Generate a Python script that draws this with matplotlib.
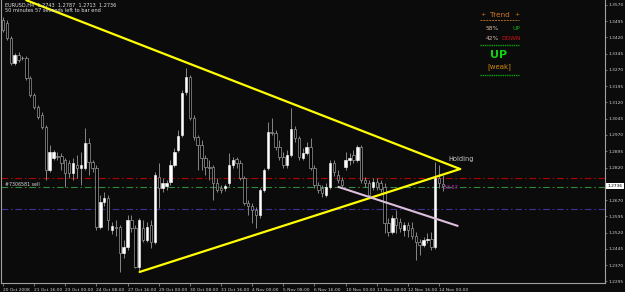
import matplotlib
matplotlib.use("Agg")
import matplotlib.pyplot as plt
import matplotlib.transforms as mtransforms
import numpy as np

# EURUSD H4 candles, 20 Oct - 14 Nov 2008
opens = [1.3501, 1.3487, 1.3418, 1.3302, 1.3339, 1.3325, 1.3325, 1.3233, 1.3155, 1.3099,
         1.3062, 1.3007, 1.2808, 1.2864, 1.2873, 1.2873, 1.2855, 1.2841, 1.2795, 1.2832,
         1.2818, 1.2818, 1.2933, 1.2845, 1.2818, 1.2545, 1.2661, 1.2679, 1.2532, 1.2545,
         1.2545, 1.2425, 1.2453, 1.2578, 1.2541, 1.2361, 1.2541, 1.2485, 1.2555, 1.2476,
         1.2776, 1.2725, 1.2735, 1.2753, 1.2832, 1.2901, 1.2970, 1.3168, 1.3238, 1.3048,
         1.2961, 1.2924, 1.2864, 1.2822, 1.2822, 1.2748, 1.2725, 1.2725, 1.2748, 1.2832,
         1.2859, 1.2841, 1.2772, 1.2656, 1.2642, 1.2624, 1.2601, 1.2716, 1.2818, 1.2984,
         1.2979, 1.2914, 1.2868, 1.2832, 1.2878, 1.2998, 1.2956, 1.2864, 1.2887, 1.2914,
         1.2818, 1.2739, 1.2725, 1.2693, 1.2730, 1.2841, 1.2785, 1.2762, 1.2822, 1.2855,
         1.2878, 1.2855, 1.2914, 1.2762, 1.2748, 1.2730, 1.2753, 1.2748, 1.2730, 1.2564,
         1.2523, 1.2587, 1.2569, 1.2532, 1.2555, 1.2541, 1.2505, 1.2476, 1.2462, 1.2485,
         1.2491, 1.2453, 1.2772, 1.2743]
highs = [1.3515, 1.3501, 1.3427, 1.3348, 1.3353, 1.3335, 1.3335, 1.3242, 1.3164, 1.3108,
         1.3076, 1.3016, 1.2924, 1.2901, 1.2892, 1.2887, 1.2864, 1.2855, 1.2864, 1.2878,
         1.2892, 1.3002, 1.2956, 1.2855, 1.2832, 1.2693, 1.2707, 1.2693, 1.2569, 1.2578,
         1.2555, 1.2485, 1.2601, 1.2601, 1.2555, 1.2587, 1.2578, 1.2569, 1.2578, 1.2799,
         1.2841, 1.2772, 1.2762, 1.2855, 1.2910, 1.2993, 1.3178, 1.3279, 1.3247, 1.3062,
         1.2970, 1.2947, 1.2878, 1.2855, 1.2832, 1.2772, 1.2739, 1.2744, 1.2887, 1.2868,
         1.2868, 1.2855, 1.2781, 1.2670, 1.2656, 1.2638, 1.2725, 1.2818, 1.3030, 1.3048,
         1.2993, 1.2947, 1.2892, 1.2901, 1.3095, 1.3012, 1.2965, 1.2910, 1.2938, 1.2956,
         1.2832, 1.2753, 1.2739, 1.2748, 1.2855, 1.2855, 1.2808, 1.2776, 1.2892, 1.2887,
         1.2901, 1.2924, 1.2924, 1.2776, 1.2762, 1.2772, 1.2772, 1.2762, 1.2748, 1.2587,
         1.2601, 1.2624, 1.2587, 1.2569, 1.2569, 1.2569, 1.2523, 1.2491, 1.2500, 1.2518,
         1.2523, 1.2845, 1.2832, 1.2787]
lows = [1.3445, 1.3408, 1.3293, 1.3293, 1.3307, 1.3316, 1.3224, 1.3145, 1.3090, 1.3044,
        1.2998, 1.2762, 1.2799, 1.2855, 1.2855, 1.2808, 1.2730, 1.2772, 1.2762, 1.2772,
        1.2739, 1.2808, 1.2785, 1.2799, 1.2532, 1.2536, 1.2642, 1.2532, 1.2513, 1.2505,
        1.2338, 1.2402, 1.2439, 1.2523, 1.2356, 1.2338, 1.2476, 1.2476, 1.2448, 1.2467,
        1.2633, 1.2707, 1.2716, 1.2739, 1.2822, 1.2892, 1.2961, 1.3155, 1.3039, 1.2947,
        1.2808, 1.2808, 1.2785, 1.2762, 1.2670, 1.2707, 1.2702, 1.2711, 1.2735, 1.2818,
        1.2818, 1.2762, 1.2647, 1.2601, 1.2564, 1.2541, 1.2587, 1.2707, 1.2808, 1.2970,
        1.2901, 1.2855, 1.2818, 1.2818, 1.2868, 1.2938, 1.2855, 1.2855, 1.2878, 1.2808,
        1.2725, 1.2702, 1.2684, 1.2684, 1.2721, 1.2781, 1.2748, 1.2725, 1.2808, 1.2832,
        1.2841, 1.2845, 1.2748, 1.2730, 1.2684, 1.2716, 1.2716, 1.2707, 1.2518, 1.2505,
        1.2513, 1.2518, 1.2523, 1.2505, 1.2500, 1.2491, 1.2393, 1.2416, 1.2453, 1.2472,
        1.2439, 1.2444, 1.2725, 1.2713]
closes = [1.3455, 1.3418, 1.3302, 1.3339, 1.3316, 1.3324, 1.3233, 1.3155, 1.3099, 1.3053,
          1.3007, 1.2808, 1.2892, 1.2892, 1.2868, 1.2841, 1.2795, 1.2795, 1.2841, 1.2818,
          1.2832, 1.2933, 1.2845, 1.2818, 1.2545, 1.2661, 1.2679, 1.2578, 1.2550, 1.2541,
          1.2425, 1.2453, 1.2578, 1.2541, 1.2361, 1.2578, 1.2485, 1.2545, 1.2476, 1.2785,
          1.2725, 1.2748, 1.2748, 1.2832, 1.2892, 1.2965, 1.3164, 1.3238, 1.3048, 1.2961,
          1.2924, 1.2864, 1.2822, 1.2818, 1.2748, 1.2716, 1.2716, 1.2735, 1.2832, 1.2855,
          1.2841, 1.2772, 1.2656, 1.2642, 1.2624, 1.2601, 1.2716, 1.2808, 1.2984, 1.2979,
          1.2914, 1.2868, 1.2832, 1.2878, 1.2998, 1.2956, 1.2868, 1.2887, 1.2914, 1.2818,
          1.2739, 1.2716, 1.2702, 1.2730, 1.2841, 1.2799, 1.2762, 1.2739, 1.2855, 1.2864,
          1.2855, 1.2914, 1.2762, 1.2748, 1.2693, 1.2753, 1.2730, 1.2721, 1.2564, 1.2523,
          1.2587, 1.2555, 1.2541, 1.2555, 1.2532, 1.2505, 1.2476, 1.2462, 1.2485, 1.2491,
          1.2453, 1.2772, 1.2748, 1.2736]

x_labels = ["20 Oct 2008", "21 Oct 16:00", "23 Oct 00:00", "24 Oct 08:00", "27 Oct 16:00",
            "29 Oct 00:00", "30 Oct 08:00", "31 Oct 16:00", "4 Nov 00:00", "5 Nov 08:00",
            "6 Nov 16:00", "10 Nov 00:00", "11 Nov 08:00", "12 Nov 16:00", "14 Nov 00:00"]
x_label_bars = list(range(0, 113, 8))
price_ticks = [1.2295, 1.2370, 1.2445, 1.2520, 1.2595, 1.2670, 1.2820, 1.2895, 1.2970,
               1.3045, 1.3120, 1.3195, 1.3270, 1.3345, 1.3420, 1.3495, 1.3570]
last_price = 1.2736

# trendlines (bar index, price)
tri_top = ([6.0, 117.4], [1.3592, 1.2813])
tri_bottom = ([35.1, 117.4], [1.2338, 1.2813])
pink_line = ([86.2, 116.7], [1.2730, 1.2551])
level_red = 1.2771
level_order = 1.2730
level_blue = 1.2629

W, H = 625, 292
BG = "#0b0b0b"
fig = plt.figure(figsize=(W / 100, H / 100), dpi=100, facecolor=BG)
ax = fig.add_axes([1 / W, 9 / H, 604 / W, 283 / H], facecolor=BG)

o = np.array(opens); hi = np.array(highs); lo = np.array(lows); c = np.array(closes)
bars = np.arange(len(o))
up = c >= o

ax.vlines(bars, lo, hi, color="#9a9a9a", lw=0.6, zorder=2)
body_lo = np.minimum(o, c)
body_h = np.maximum(np.abs(c - o), 0.00015)
ax.bar(bars[up], body_h[up], bottom=body_lo[up], width=0.62, color="white",
       edgecolor="white", lw=0.4, zorder=3)
ax.bar(bars[~up], body_h[~up], bottom=body_lo[~up], width=0.62, color="black",
       edgecolor="#9a9a9a", lw=0.5, zorder=3)

ax.axhline(level_red, color="#b00000", lw=0.8, ls=(0, (6, 2.5, 1.5, 2.5)), zorder=1)
ax.axhline(level_order, color="#2f8a3a", lw=0.8, ls=(0, (6, 2.5, 1.5, 2.5)), zorder=1)
ax.axhline(level_blue, color="#40309a", lw=0.8, ls=(0, (6, 2.5, 1.5, 2.5)), zorder=1)

ax.plot(*tri_top, color="#ffff00", lw=1.6, zorder=4, solid_capstyle="round")
ax.plot(*tri_bottom, color="#ffff00", lw=1.6, zorder=4, solid_capstyle="round")
ax.plot(*pink_line, color="#dcc0dc", lw=1.5, zorder=4)

ax.text(114.3, 1.2857, "Holding", color="#c8c8c8", fontsize=4.8, va="center", ha="left")
ax.text(113.0, 1.2726, "-33.57", color="#d020d0", fontsize=3.6, va="center", ha="left")
ax.text(0.5, 1.2741, "#7306581 sell", color="#d8d8d8", fontsize=3.4, va="center", ha="left")

ax.set_xlim(-0.5, 154.6)
ax.set_ylim(1.2287, 1.3593)

ax.spines["top"].set_visible(False)
for side in ["left", "right", "bottom"]:
    ax.spines[side].set_color("#a0a0a0")
    ax.spines[side].set_linewidth(0.8)

ax.yaxis.tick_right()
ax.set_yticks(price_ticks)
ax.set_yticklabels([f"{p:.4f}" for p in price_ticks])
ax.tick_params(axis="y", colors="#a0a0a0", labelcolor="#d0d0d0", labelsize=3.2,
               length=1.5, width=0.5, pad=1)
ax.set_xticks(x_label_bars)
ax.set_xticklabels(x_labels, ha="left")
ax.tick_params(axis="x", colors="#a0a0a0", labelcolor="#d0d0d0", labelsize=3.2,
               length=2.5, width=0.5, pad=0.8)

trans = mtransforms.blended_transform_factory(ax.transAxes, ax.transData)
ax.text(1.004, last_price, f"{last_price:.4f}", transform=trans, color="black",
        fontsize=3.2, va="center", ha="left",
        bbox=dict(facecolor="white", edgecolor="none", pad=0.8))


def fpos(px, py):
    return px / W, 1 - py / H


fig.text(*fpos(5, 5), "EURUSD,H4  1.2743  1.2787  1.2713  1.2736", color="#e0e0e0",
         fontsize=3.6, va="center", ha="left")
fig.text(*fpos(5, 11), "50 minutes 57 seconds left to bar end", color="#e0e0e0",
         fontsize=3.6, va="center", ha="left")

orange = "#d2781e"
fig.text(*fpos(483, 15), "+", color=orange, fontsize=4.5, va="center", ha="center")
fig.text(*fpos(500, 15), "Trend", color=orange, fontsize=5.2, va="center", ha="center")
fig.text(*fpos(517, 15), "+", color=orange, fontsize=4.5, va="center", ha="center")
fig.lines.append(plt.Line2D([480 / W, 519 / W], [1 - 20 / H] * 2, transform=fig.transFigure,
                            color="#b06a20", lw=0.7, ls=(0, (2, 1))))
fig.text(*fpos(486, 28), "58%", color="#d8b8a8", fontsize=4.2, va="center", ha="left")
fig.text(*fpos(520, 28), "UP", color="#10b010", fontsize=4.2, va="center", ha="right")
fig.text(*fpos(486, 38), "42%", color="#d8b8a8", fontsize=4.2, va="center", ha="left")
fig.text(*fpos(521, 38), "DOWN", color="#d01010", fontsize=4.2, va="center", ha="right")
fig.lines.append(plt.Line2D([480 / W, 519 / W], [1 - 45 / H] * 2, transform=fig.transFigure,
                            color="#10a010", lw=1.0, ls=(0, (1, 0.6))))
fig.text(*fpos(499, 55), "UP", color="#10d010", fontsize=8, fontweight="bold",
         va="center", ha="center")
fig.text(*fpos(499, 67), "[weak]", color="#d08a10", fontsize=5, va="center", ha="center")
fig.lines.append(plt.Line2D([480 / W, 519 / W], [1 - 75 / H] * 2, transform=fig.transFigure,
                            color="#10a010", lw=1.0, ls=(0, (1, 0.6))))

fig.savefig("out.png", dpi=100, facecolor=BG)
